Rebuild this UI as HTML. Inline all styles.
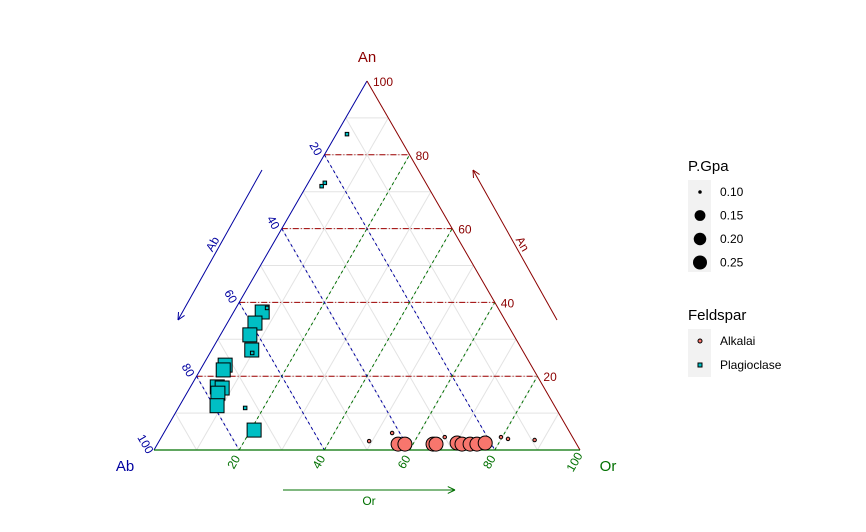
<!DOCTYPE html>
<html><head><meta charset="utf-8"><style>
body{margin:0;background:#fff}
svg{display:block;font-family:"Liberation Sans",sans-serif}
</style></head><body>
<svg id="c" width="866" height="532" viewBox="0 0 866 532" xmlns="http://www.w3.org/2000/svg">
<g id="grid"></g>
<g id="axes"></g>
<g id="pts"></g>
<g id="leg"></g>
</svg>
<script>
const plagAn=[37.4,38.5,34.4,31.2,27.1,26.3,23.0,21.7,17.1,16.8,15.4,12.0,11.4,5.4,85.6,71.5,72.4];
const plagOr=[6.7,7.3,6.5,6.9,9.4,9.9,5.2,5.4,6.3,7.6,7.3,8.8,15.7,20.8,2.5,3.6,3.9];
const plagP=[0.25,0.10,0.25,0.25,0.25,0.10,0.25,0.25,0.25,0.25,0.25,0.25,0.10,0.25,0.10,0.10,0.10];
const alkAn=[2.4,4.6,1.6,1.6,1.6,1.6,3.5,1.9,1.6,1.6,1.6,1.9,3.5,3.0,2.7];
const alkOr=[49.3,53.6,56.5,58.1,64.7,65.4,66.5,70.2,71.5,73.4,75.0,76.8,79.7,81.6,88.0];
const alkP=[0.10,0.10,0.25,0.25,0.25,0.25,0.10,0.25,0.25,0.25,0.25,0.25,0.10,0.10,0.10];
const ticks=[20,40,60,80,100];
const legP=[0.10,0.15,0.20,0.25];

const NS="http://www.w3.org/2000/svg";
const X0=154,Y0=450,L=426,H=369;
function px(an,or){return [X0+(or+an/2)/100*L, Y0-an/100*H];}
function sz(p){return p<=0.1?3.5:Math.sqrt(p)*28;}
function mk(tag,at,parent){const e=document.createElementNS(NS,tag);for(const k in at)e.setAttribute(k,at[k]);parent.appendChild(e);return e;}
const G=document.getElementById('grid'),A=document.getElementById('axes'),P=document.getElementById('pts'),LG=document.getElementById('leg');
function line(a,b,st,par,name){const l=mk('line',Object.assign({x1:a[0],y1:a[1],x2:b[0],y2:b[1]},st),par);

return l;}
for(let v=10;v<100;v+=10){
 const st={stroke:'#e3e3e3','stroke-width':1};
 line(px(v,0),px(v,100-v),st,G,'grid-an');
 line(px(0,v),px(100-v,v),st,G,'grid-or');
 line(px(100-v,0),px(0,100-v),st,G,'grid-ab');
}
for(const v of [20,40,60,80]){
 line(px(v,0),px(v,100-v),{stroke:'#a00000','stroke-dasharray':'6 2 1 2','stroke-width':1},G,'major-an-line');
 line(px(0,v),px(100-v,v),{stroke:'#007000','stroke-dasharray':'3 3','stroke-width':1},G,'major-or-line');
 line(px(100-v,0),px(0,100-v),{stroke:'#0000a0','stroke-dasharray':'3 3','stroke-width':1},G,'major-ab-line');
}
line(px(0,0),px(100,0),{stroke:'#0000a0','stroke-width':1},A,'ab-an-side');
line(px(100,0),px(0,100),{stroke:'#8b0000','stroke-width':1},A,'an-or-side');
line(px(0,0),px(0,100),{stroke:'#007000','stroke-width':1.3},A,'ab-or-side');
function txt(s,x,y,st,par,name,rot){const t=mk('text',Object.assign({x:x,y:y},st),par);t.textContent=s;
if(rot)t.setAttribute('transform','rotate('+rot+' '+x+' '+y+')');

return t;}
for(const v of ticks){
 const r=px(v,100-v);txt(String(v),r[0]+6,r[1]+5,{fill:'#8b0000','font-size':12},A,'an-tick-label');
 const l=px(100-v,0);txt(String(v),l[0]-12,l[1]-4,{fill:'#0000a0','font-size':12,'text-anchor':'middle'},A,'ab-tick-label',60);
 const b=px(0,v);txt(String(v),b[0]-2,b[1]+14,{fill:'#007000','font-size':12,'text-anchor':'middle'},A,'or-tick-label',-60);
}
txt('An',367,62,{fill:'#8b0000','font-size':15,'text-anchor':'middle'},A,'an-vertex-label');
txt('Ab',125,471,{fill:'#0000a0','font-size':15,'text-anchor':'middle'},A,'ab-vertex-label');
txt('Or',608,471,{fill:'#007000','font-size':15,'text-anchor':'middle'},A,'or-vertex-label');
function arrow(a,b,c,name){line(a,b,{stroke:c,'stroke-width':1},A,name);
 const ang=Math.atan2(b[1]-a[1],b[0]-a[0]);
 for(const d of [0.45,-0.45]){line(b,[b[0]-8*Math.cos(ang+d),b[1]-8*Math.sin(ang+d)],{stroke:c,'stroke-width':1},A,name+'-head');}}
arrow([262,170],[178,320],'#0000a0','ab-arrow');
txt('Ab',216,246,{fill:'#0000a0','font-size':12,'text-anchor':'middle'},A,'ab-axis-title',-60);
arrow([557,320],[473,170],'#8b0000','an-arrow');
txt('An',519,246,{fill:'#8b0000','font-size':12,'text-anchor':'middle'},A,'an-axis-title',60);
arrow([283,490],[455,490],'#007000','or-arrow');
txt('Or',369,505,{fill:'#007000','font-size':12,'text-anchor':'middle'},A,'or-axis-title');
for(let i=0;i<alkAn.length;i++){const p=px(alkAn[i],alkOr[i]);const c=mk('circle',{cx:p[0],cy:p[1],r:sz(alkP[i])/2,fill:'#f8766d',stroke:'#000','stroke-width':1},P);

}
for(let i=0;i<plagAn.length;i++){const p=px(plagAn[i],plagOr[i]);const s=sz(plagP[i]);const r=mk('rect',{x:p[0]-s/2,y:p[1]-s/2,width:s,height:s,fill:'#00bfc4',stroke:'#000','stroke-width':1},P);

}
txt('P.Gpa',688,171,{fill:'#000','font-size':15},LG,'size-legend-title');
mk('rect',{x:688,y:180,width:23,height:92,fill:'#f2f2f2'},LG);
legP.forEach((v,i)=>{const y=192+i*23.5;const c=mk('circle',{cx:700,cy:y,r:sz(v)/2,fill:'#000'},LG);


txt(v.toFixed(2),720,y+4,{fill:'#000','font-size':12},LG,'size-legend-label');});
txt('Feldspar',688,320,{fill:'#000','font-size':15},LG,'feldspar-legend-title');
mk('rect',{x:688,y:329,width:23,height:48,fill:'#f2f2f2'},LG);
const c1=mk('circle',{cx:700,cy:341,r:2,fill:'#f8766d',stroke:'#000','stroke-width':1},LG);


txt('Alkalai',720,345,{fill:'#000','font-size':12},LG,'alkalai-legend-label');
const r1=mk('rect',{x:698,y:363,width:4,height:4,fill:'#00bfc4',stroke:'#000','stroke-width':1},LG);


txt('Plagioclase',720,369,{fill:'#000','font-size':12},LG,'plagioclase-legend-label');
</script>
</body></html>
